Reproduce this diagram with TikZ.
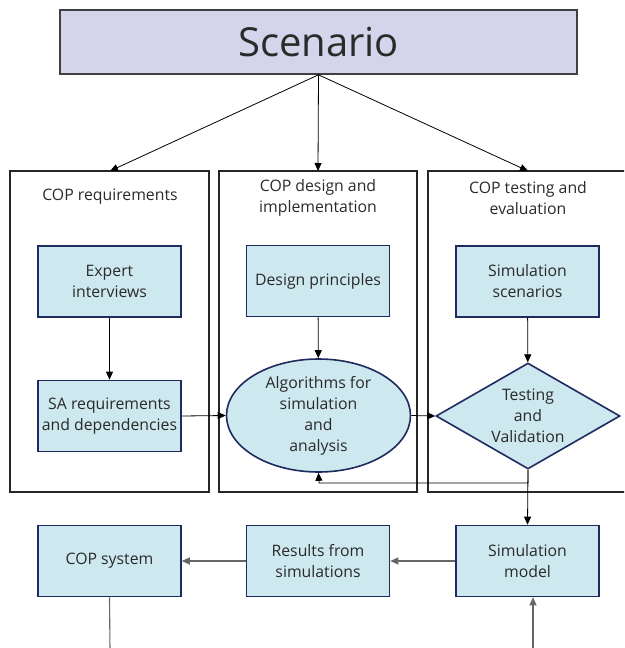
\documentclass[tikz,border=0pt]{standalone}
\usepackage{fontspec}
\setmainfont{Open Sans}
\usetikzlibrary{shapes.geometric,arrows.meta}
\definecolor{lav}{HTML}{D4D5EA}
\definecolor{lblue}{HTML}{CDE8EF}
\definecolor{navy}{HTML}{1F2A5E}
\definecolor{txt}{HTML}{2A2A2A}
\definecolor{greyline}{HTML}{666666}
\tikzset{
  every node/.style={text=txt, font=\fontsize{15.8}{21}\selectfont, align=center},
  procbox/.style={draw=navy, line width=1.6pt, fill=lblue, minimum width=143pt, minimum height=71pt, inner sep=0pt},
  column/.style={draw=black!85, line width=1.6pt},
  conn/.style={draw=black, line width=0.8pt, -{Triangle[length=8pt,width=7pt]}},
  gconn/.style={draw=greyline, line width=1.1pt, -{Triangle[length=8pt,width=7pt]}},
}
\begin{document}
\begin{tikzpicture}[x=1pt,y=-1pt]
\useasboundingbox (0,0) rectangle (624,648);
\begin{scope}
\clip (0,0) rectangle (624,648);
% title banner
\node[draw=black!75, line width=1.6pt, fill=lav, minimum width=517pt, minimum height=64pt, inner sep=0pt,
      font=\fontsize{40}{44}\selectfont] (scen) at (318.5,42) {Scenario};
% three phase columns
\draw[column] (10,171) rectangle (209,492);
\draw[column] (219,171) rectangle (417,492);
\draw[column] (428,171) rectangle (640,492);
\coordinate (c1) at (110,171);
\coordinate (c2) at (318,171);
\coordinate (c3) at (528,171);
\node (t1) at (110,197) {COP requirements};
\node (t2) at (318,198) {COP design and\\implementation};
\node (t3) at (528,198) {COP testing and\\evaluation};
% process steps
\node[procbox] (exp) at (109.5,281.5) {Expert\\interviews};
\node[procbox] (sareq) at (109.5,416) {SA requirements\\and dependencies};
\node[procbox] (des) at (318,281) {Design principles};
\node[procbox] (simsc) at (527.5,281.5) {Simulation\\scenarios};
\node[ellipse, draw=navy, line width=1.6pt, fill=lblue, minimum width=184pt, minimum height=113pt, inner sep=0pt] (alg) at (318.5,415.5) {Algorithms for\\simulation\\and\\analysis};
\node[diamond, draw=navy, line width=1.6pt, fill=lblue, minimum width=184pt, minimum height=106pt, inner sep=0pt, aspect=1.74] (test) at (528,416) {Testing\\and\\Validation};
\node[procbox] (cop) at (109.5,561) {COP system};
\node[procbox] (res) at (318,561) {Results from\\simulations};
\node[procbox] (simm) at (527.5,561) {Simulation\\model};
% connectors
\draw[conn] (scen.south) -- (c1);
\draw[conn] (scen.south) -- (c2);
\draw[conn] (scen.south) -- (c3);
\draw[conn] (exp) -- (sareq);
\draw[conn] (sareq.east) -- (alg.west);
\draw[conn] (des) -- (alg);
\draw[conn] (alg.east) -- (test.west);
\draw[conn] (simsc) -- (test);
\coordinate (fb1) at (528,483);
\coordinate (fb2) at (319,483);
\draw[conn] (test.south) -- (fb1) -- (fb2) -- (alg.south);
\draw[conn] (test.south) -- (simm.north);
\draw[gconn] (simm.west) -- (res.east);
\draw[gconn] (res.west) -- (cop.east);
\coordinate (copout) at (110,650);
\coordinate (simin) at (533,650);
\draw[draw=greyline, line width=1.1pt] (cop.south) -- (copout);
\draw[gconn] (simin) -- (simin |- simm.south);
\end{scope}
\end{tikzpicture}
\end{document}
